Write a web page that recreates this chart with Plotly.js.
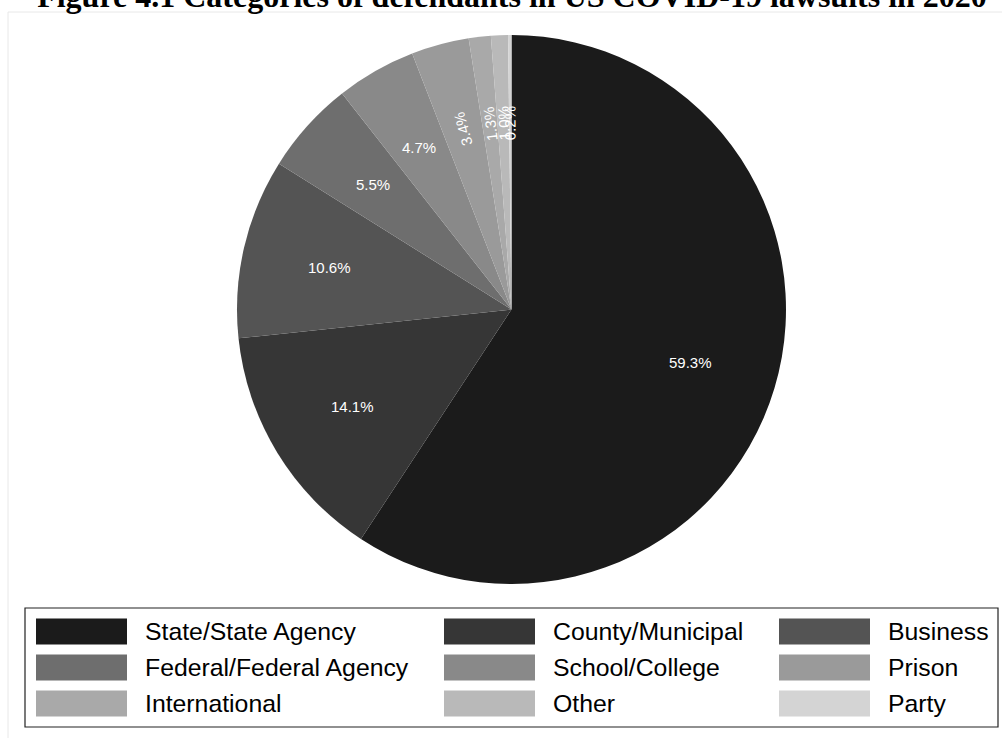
<!DOCTYPE html>
<html>
<head>
<meta charset="utf-8">
<script src="https://cdn.plot.ly/plotly-3.0.1.min.js"></script>
<style>html,body{margin:0;padding:0;background:#fff;}#chart{width:1002px;height:738px;}</style>
</head>
<body>
<div id="chart"></div>
<script>
const categories = ["State/State Agency", "County/Municipal", "Business",
  "Federal/Federal Agency", "School/College", "Prison",
  "International", "Other", "Party"];
const values = [59.3, 14.1, 10.6, 5.5, 4.7, 3.4, 1.3, 1.0, 0.2];
const colors = ["#1b1b1b", "#363636", "#545454", "#6e6e6e", "#898989",
  "#9a9a9a", "#a9a9a9", "#b9b9b9", "#d4d4d4"];
const titleText = "Figure 4.1 Categories of defendants in US COVID-19 lawsuits in 2020";

const W = 1002, H = 738;
const px = v => v / W;
const py = v => 1 - v / H;

// pie geometry (pixels)
const cx = 511.5, cy = 309.5, r = 274.5;
const labelFrac = 0.68;
const radialBelow = 4;

const trace = {
  type: "pie",
  labels: categories,
  values: values,
  sort: false,
  direction: "clockwise",
  rotation: 0,
  marker: { colors: colors, line: { width: 0 } },
  textinfo: "none",
  hoverinfo: "skip",
  showlegend: false,
  domain: { x: [px(cx - r), px(cx + r)], y: [py(cy + r), py(cy - r)] }
};

const annotations = [];
const shapes = [
  { type: "rect", xref: "paper", yref: "paper", x0: px(8), x1: 1.01, y0: -0.01, y1: py(12),
    line: { color: "#e8e8e8", width: 1 }, fillcolor: "rgba(0,0,0,0)", layer: "below" },
  { type: "rect", xref: "paper", yref: "paper", x0: px(25), x1: px(998), y0: py(727), y1: py(608),
    line: { color: "#222222", width: 1.2 }, fillcolor: "rgba(0,0,0,0)" }
];

// slice percentage labels, placed along each slice's middle angle
const total = values.reduce((a, b) => a + b, 0);
let cum = 0;
values.forEach((v, i) => {
  const mid = (cum + v / 2) / total * 360;
  cum += v;
  const a = mid * Math.PI / 180;
  const lx = cx + labelFrac * r * Math.sin(a);
  const ly = cy - labelFrac * r * Math.cos(a);
  annotations.push({ xref: "paper", yref: "paper", x: px(lx), y: py(ly),
    xanchor: "center", yanchor: "middle", showarrow: false,
    text: v.toFixed(1) + "%",
    textangle: v < radialBelow ? mid - 450 : 0,
    font: { family: "Liberation Sans, Arial, sans-serif", size: 15, color: "#ffffff" } });
});

// custom legend
const colSwatchX = [36, 444, 779];
const swatchW = 91;
const textGap = 16;
const rowY = [631.5, 667.5, 703.5];
const swatchH = 26;

categories.forEach((c, i) => {
  const col = i % 3, row = Math.floor(i / 3);
  const x0 = colSwatchX[col];
  const yc = rowY[row];
  shapes.push({ type: "rect", xref: "paper", yref: "paper",
    x0: px(x0), x1: px(x0 + swatchW), y0: py(yc + swatchH / 2), y1: py(yc - swatchH / 2),
    line: { width: 0 }, fillcolor: colors[i] });
  annotations.push({ xref: "paper", yref: "paper", x: px(x0 + swatchW + textGap), y: py(yc),
    xanchor: "left", yanchor: "middle", showarrow: false, text: c,
    font: { family: "Liberation Sans, Arial, sans-serif", size: 24.8, color: "#000" } });
});

const layout = {
  width: W, height: H,
  margin: { l: 0, r: 0, t: 0, b: 0 },
  paper_bgcolor: "#ffffff",
  title: { text: titleText, x: px(512), xanchor: "center", xref: "container",
    y: 1 - 7 / H, yanchor: "bottom", yref: "container",
    font: { family: "Liberation Serif, Times New Roman, serif", size: 32, color: "#000", weight: "bold" } },
  shapes: shapes,
  annotations: annotations,
  showlegend: false
};

Plotly.newPlot("chart", [trace], layout, { displayModeBar: false, staticPlot: true });
</script>
</body>
</html>
